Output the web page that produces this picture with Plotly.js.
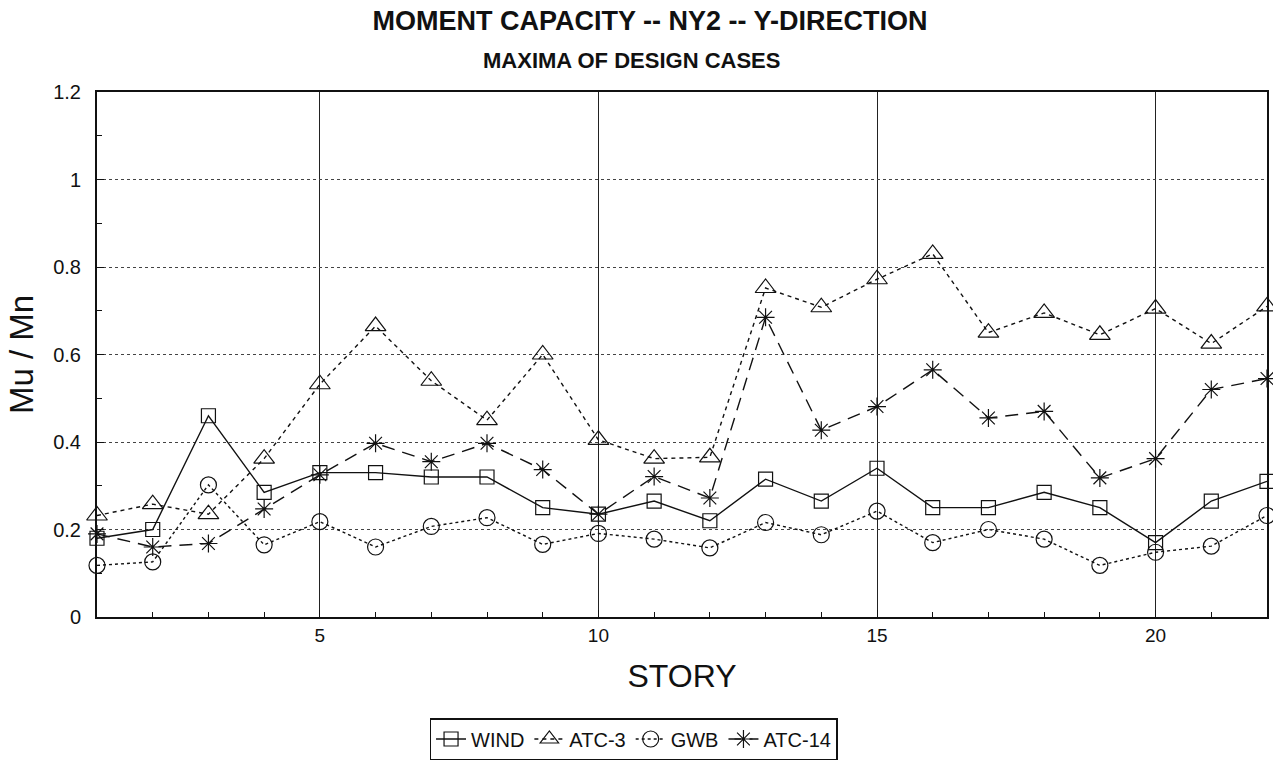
<!DOCTYPE html>
<html>
<head>
<meta charset="utf-8">
<script src="https://cdn.plot.ly/plotly-3.0.1.min.js"></script>
<style>
  html, body { margin: 0; padding: 0; background: #fff; }
  #chart { width: 1273px; height: 783px; }
</style>
</head>
<body>
<div id="chart"></div>
<script>
// ---- data ----
const stories = [1,2,3,4,5,6,7,8,9,10,11,12,13,14,15,16,17,18,19,20,21,22];
const windVals  = [0.18, 0.20, 0.46, 0.285, 0.33, 0.33, 0.32, 0.32, 0.25, 0.235, 0.265, 0.22, 0.315, 0.265, 0.34, 0.25, 0.25, 0.285, 0.25, 0.17, 0.265, 0.31];
const atc3Vals  = [0.232, 0.258, 0.235, 0.362, 0.532, 0.665, 0.54, 0.45, 0.60, 0.405, 0.362, 0.365, 0.752, 0.708, 0.772, 0.83, 0.65, 0.695, 0.645, 0.705, 0.625, 0.71];
const gwbVals   = [0.118, 0.126, 0.302, 0.165, 0.218, 0.16, 0.207, 0.227, 0.166, 0.191, 0.178, 0.158, 0.216, 0.188, 0.242, 0.17, 0.2, 0.178, 0.118, 0.148, 0.162, 0.232];
const atc14Vals = [0.19, 0.16, 0.168, 0.247, 0.325, 0.397, 0.355, 0.397, 0.337, 0.235, 0.321, 0.272, 0.685, 0.427, 0.481, 0.565, 0.455, 0.47, 0.318, 0.362, 0.52, 0.545];
const seriesNames = ["WIND", "ATC-3", "GWB", "ATC-14"];
const titleText = "MOMENT CAPACITY -- NY2 -- Y-DIRECTION";
const subtitleText = "MAXIMA OF DESIGN CASES";
const xTitle = "STORY";
const yTitle = "Mu / Mn";

const FONT = "Liberation Sans, Arial, Helvetica, sans-serif";

function series(name, y, dash, symbol, size) {
  return {
    type: "scatter", mode: "lines+markers", name: name,
    x: stories, y: y,
    line: { color: "#111", width: 1.4, dash: dash },
    marker: { symbol: symbol, size: size, color: "#111", line: { color: "#111", width: 1.2 } },
    cliponaxis: false
  };
}

const traces = [
  series(seriesNames[0], windVals,  "solid",     "square-open",      14),
  series(seriesNames[1], atc3Vals,  "4px,4px",   "triangle-up-open", 18),
  series(seriesNames[2], gwbVals,   "dot",       "circle-open",      16),
  series(seriesNames[3], atc14Vals, "13px,8px",  "asterisk-open",    15)
];

const layout = {
  width: 1273, height: 783,
  margin: { l: 97, r: 6, t: 92, b: 166 },
  paper_bgcolor: "#fff", plot_bgcolor: "#fff",
  font: { family: FONT, color: "#111", size: 18 },
  title: {
    text: "<b>" + titleText + "</b>",
    font: { family: FONT, size: 27, color: "#111" },
    xref: "container", x: 650/1273, xanchor: "center",
    yref: "container", y: 1 - 21/783, yanchor: "middle"
  },
  annotations: [{
    text: "<b>" + subtitleText + "</b>",
    xref: "paper", yref: "paper",
    x: (632-97)/1171, y: 1 + (92-60)/525,
    xanchor: "center", yanchor: "middle",
    showarrow: false,
    font: { family: FONT, size: 22, color: "#111" }
  }],
  xaxis: {
    range: [1, 22],
    tickmode: "linear", tick0: 0, dtick: 5,
    ticks: "inside", ticklen: 7, tickcolor: "#111",
    showgrid: true, gridcolor: "#222", gridwidth: 1,
    showline: true, linecolor: "#111", linewidth: 2, mirror: true,
    zeroline: false,
    tickfont: { family: FONT, size: 19, color: "#111" },
    minor: { tick0: 0, dtick: 1, ticks: "inside", ticklen: 5, tickcolor: "#111", showgrid: false },
    title: { text: xTitle, font: { family: FONT, size: 32, color: "#111" }, standoff: 20 }
  },
  yaxis: {
    range: [0, 1.2],
    tickmode: "linear", tick0: 0, dtick: 0.2,
    ticks: "inside", ticklen: 7, tickcolor: "#111",
    showgrid: true, gridcolor: "#444", gridwidth: 1, griddash: "dot",
    showline: true, linecolor: "#111", linewidth: 2, mirror: true,
    zeroline: false,
    tickfont: { family: FONT, size: 20, color: "#111" },
    ticklabelstandoff: 10,
    minor: { tick0: 0, dtick: 0.1, ticks: "inside", ticklen: 5, tickcolor: "#111", showgrid: false },
    title: { text: yTitle, font: { family: FONT, size: 33, color: "#111" }, standoff: 10 }
  },
  showlegend: true,
  legend: {
    orientation: "h",
    xref: "paper", yref: "paper",
    x: (634-97)/1171, xanchor: "center",
    y: (617-718)/525, yanchor: "top",
    bordercolor: "#111", borderwidth: 1.5, bgcolor: "#fff",
    font: { family: FONT, size: 20, color: "#111" },
    itemwidth: 30
  }
};

Plotly.newPlot("chart", traces, layout, { staticPlot: true, displayModeBar: false });
</script>
</body>
</html>
